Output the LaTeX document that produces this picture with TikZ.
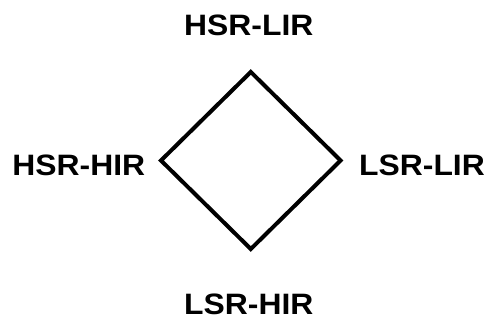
\documentclass[tikz,border=0pt]{standalone}
\usepackage{fontspec}
\setmainfont{Liberation Sans}[FakeStretch=1.08]
\usetikzlibrary{shapes,arrows}

\begin{document}
\begin{tikzpicture}[x=1pt,y=1pt]
	\tikzstyle{common} = [inner sep=0, outer sep=0]
	\tikzstyle{quad} = [diamond, common, draw, line width=4pt, minimum width=179.6pt, minimum height=177pt]
	\tikzstyle{corner} = [common, font=\fontsize{29.5}{35}\selectfont\bfseries]
	\useasboundingbox (0,0) rectangle (488,320);
	\node[quad] (sq) at (250.8,159.5) {};
	\node[corner, above of=sq, node distance=135pt, xshift=-2pt] (hl) {HSR-LIR};
	\node[corner, below of=sq, node distance=143.5pt, xshift=-2pt] (lh) {LSR-HIR};
	\node[corner, left of=sq, node distance=172pt, yshift=-4.5pt] (hh) {HSR-HIR};
	\node[corner, right of=sq, node distance=171.2pt, yshift=-4.5pt] (ll) {LSR-LIR};
\end{tikzpicture}
\end{document}
